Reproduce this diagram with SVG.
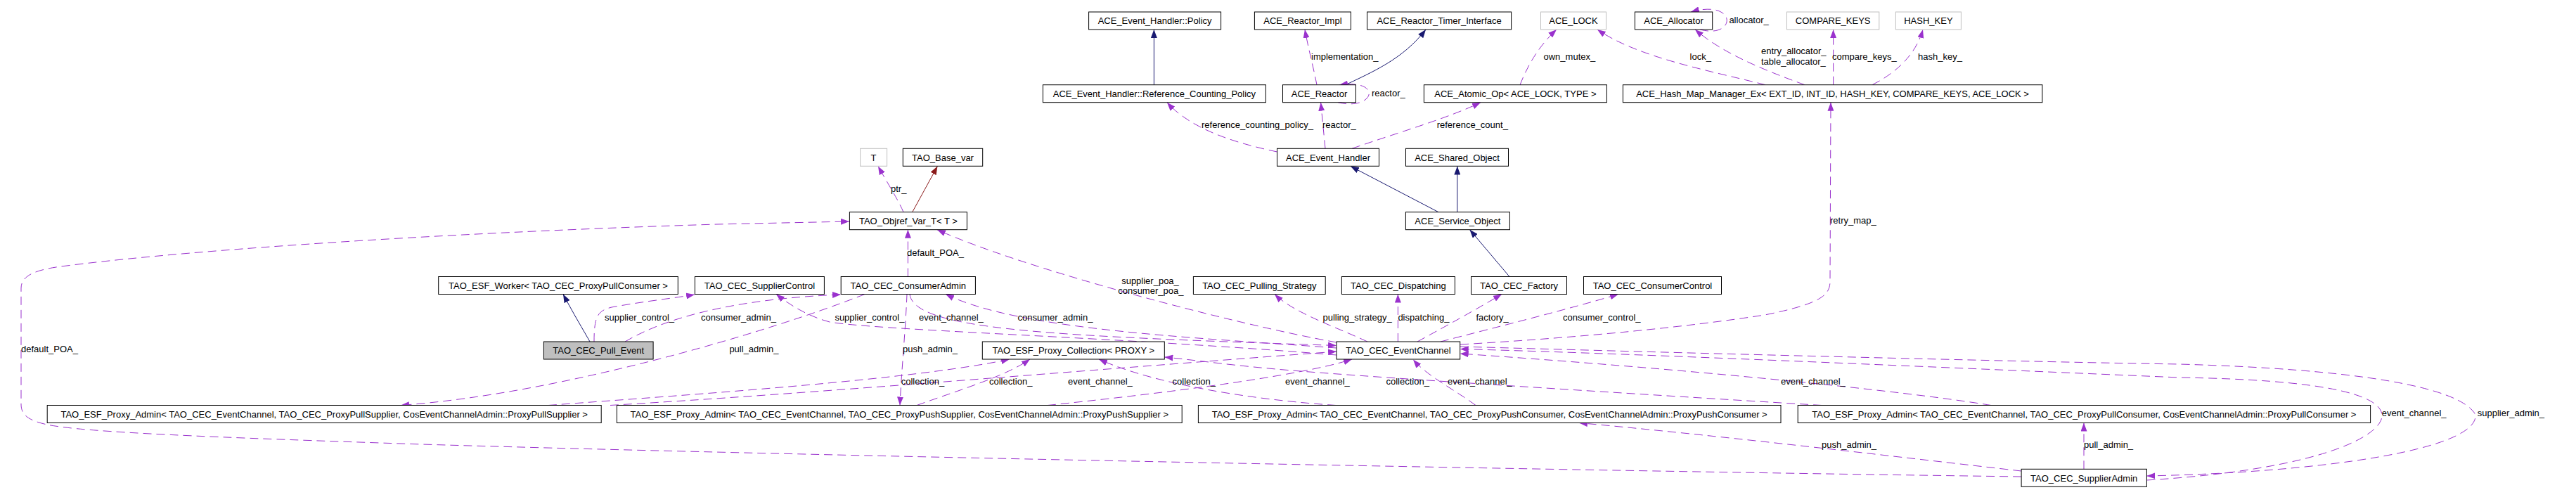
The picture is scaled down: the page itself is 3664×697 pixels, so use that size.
<svg xmlns="http://www.w3.org/2000/svg" width="3664" height="697" viewBox="0 0 3664 697">
<style>
.nd rect{fill:#fff;stroke:#000;stroke-width:1}
.nd.g rect{stroke:#bfbfbf}
.nd.f rect{fill:#bfbfbf}
text{font-family:"Liberation Sans",Arial,sans-serif;font-size:13px;fill:#000}
.nd text{text-anchor:middle}
.e{fill:none;stroke:#9a32cd;stroke-width:1;stroke-dasharray:12,7}
.n{fill:none;stroke:#191970;stroke-width:1}
.r{fill:none;stroke:#8b1a1a;stroke-width:1}
</style>
<defs>
<marker id="ap" viewBox="0 0 12 9" refX="12" refY="4.5" markerWidth="12" markerHeight="9" markerUnits="userSpaceOnUse" orient="auto"><path d="M0,0L12,4.5L0,9z" fill="#9a32cd"/></marker>
<marker id="an" viewBox="0 0 12 9" refX="12" refY="4.5" markerWidth="12" markerHeight="9" markerUnits="userSpaceOnUse" orient="auto"><path d="M0,0L12,4.5L0,9z" fill="#191970"/></marker>
<marker id="ar" viewBox="0 0 12 9" refX="12" refY="4.5" markerWidth="12" markerHeight="9" markerUnits="userSpaceOnUse" orient="auto"><path d="M0,0L12,4.5L0,9z" fill="#8b1a1a"/></marker>
</defs>
<rect width="3664" height="697" fill="#fff"/>
<g id="connectors">
<g marker-end="url(#an)">
<path class="n" d="M1641.4,120.7 L1641.4,42"/>
<path class="n" d="M1914,120.7 C1950,103 1995,85 2028,42"/>
<path class="n" d="M2046,301.7 L1921,236.5"/>
<path class="n" d="M2072.8,301.7 L2072.8,236.5"/>
<path class="n" d="M2147,393.5 L2090.5,326.7"/>
<path class="n" d="M839,486 C830,470 815,445 801,418.5"/>
</g>
<path class="r" marker-end="url(#ar)" d="M1297.7,301.7 L1333.4,236.5"/>
<g marker-end="url(#ap)">
<path class="e" d="M1285,301.7 C1278,285 1262,260 1249,236.5"/>
<path class="e" d="M1873,120.7 C1868,95 1860,65 1856,42"/>
<path class="e" d="M1903,145.7 C1955,158 1968,112 1905,120.7"/>
<path class="e" d="M1885,211.3 L1878.6,145.7"/>
<path class="e" d="M1816.5,216 C1760,204 1695,185 1660,145.7"/>
<path class="e" d="M1923,211.3 C1990,188 2060,168 2106,145.7"/>
<path class="e" d="M2162,120.7 C2172,95 2188,66 2214,42"/>
<path class="e" d="M2511,120.7 C2430,100 2330,82 2272,42"/>
<path class="e" d="M2418,42 C2470,56 2472,-2 2405,17"/>
<path class="e" d="M2567,120.7 C2510,100 2450,76 2411,42"/>
<path class="e" d="M2607.6,120.7 L2607.6,42"/>
<path class="e" d="M2663,120.7 C2700,102 2726,75 2735,42"/>
<path class="e" d="M2077,490 C2250,480 2400,465 2510,448 C2590,432 2603,420 2603,400 L2604,145.7"/>
<path class="e" d="M1291.4,393.5 L1291.4,326.7"/>
<path class="e" d="M1901,487 C1750,460 1450,380 1333,326.7"/>
<path class="e" d="M2875,678 C2400,672 1200,650 600,632 C300,622 120,615 67,604 C40,598 30,590 30,575 L30,410 C30,392 50,383 95,378 C250,358 600,332 1020,319 L1208,315"/>
<path class="e" d="M845,486 C845,450 850,442 870,437 C920,428 960,424 988,419"/>
<path class="e" d="M889,486 C950,450 1050,425 1196,419"/>
<path class="e" d="M1230,418.5 C1100,470 800,560 570,576.5"/>
<path class="e" d="M1290,418.5 C1288,470 1282,530 1280,576.5"/>
<path class="e" d="M1294,418.5 C1300,470 1500,478 1901,491.5"/>
<path class="e" d="M1901,505 C1600,480 1250,470 1180,458 C1150,450 1125,435 1104,418.5"/>
<path class="e" d="M1901,495 C1700,480 1450,470 1345,418.5"/>
<path class="e" d="M1945,486 C1900,465 1840,445 1813,418.5"/>
<path class="e" d="M1988.4,486 L1988.4,418.5"/>
<path class="e" d="M2016,486 C2060,462 2100,440 2136,418.5"/>
<path class="e" d="M2049,486 C2130,465 2230,440 2302,418.5"/>
<path class="e" d="M780,576.5 C1000,560 1300,540 1436,511"/>
<path class="e" d="M1304,576.5 C1370,553 1430,535 1465,511"/>
<path class="e" d="M1900,576.5 C1800,570 1650,550 1563,511"/>
<path class="e" d="M2591,576.5 C2400,565 2000,540 1850,528 C1750,520 1700,512 1656.4,508"/>
<path class="e" d="M868,576.5 C1150,560 1500,530 1901,500"/>
<path class="e" d="M1490,576.5 C1650,560 1850,535 1923,511"/>
<path class="e" d="M2099,576.5 C2070,555 2030,535 2010,511.5"/>
<path class="e" d="M2832,576.5 C2700,555 2400,525 2076.7,503"/>
<path class="e" d="M3053.4,683 C3300,668 3390,620 3388,590 C3385,560 3300,540 3100,537 C2700,520 2300,502 2076.7,496.5"/>
<path class="e" d="M2076.7,493 C2500,505 2900,515 3100,518 C3350,525 3500,550 3521,590 C3525,640 3300,672 3053.4,677"/>
<path class="e" d="M2875,670 C2700,650 2450,620 2246,601.5"/>
<path class="e" d="M2964,667.3 L2964,601.5"/>
</g>
<g id="labels">
<text x="1267" y="273">ptr_</text>
<text x="1865" y="84.7">implementation_</text>
<text x="1951" y="136.7">reactor_</text>
<text x="1881" y="181.7">reactor_</text>
<text x="1709" y="181.7">reference_counting_policy_</text>
<text x="2043.7" y="181.7">reference_count_</text>
<text x="2195.5" y="84.7">own_mutex_</text>
<text x="2403.6" y="84.7">lock_</text>
<text x="2459.4" y="32.7">allocator_</text>
<text x="2505" y="77.4">entry_allocator_</text>
<text x="2505" y="92">table_allocator_</text>
<text x="2606" y="84.7">compare_keys_</text>
<text x="2728" y="84.7">hash_key_</text>
<text x="2603" y="317.7">retry_map_</text>
<text x="1290" y="363.7">default_POA_</text>
<text x="1636" y="403.7" text-anchor="middle">supplier_poa_</text>
<text x="1636.8" y="418" text-anchor="middle">consumer_poa_</text>
<text x="30" y="501.4">default_POA_</text>
<text x="860" y="456.4">supplier_control_</text>
<text x="997" y="456.4">consumer_admin_</text>
<text x="1037.4" y="501.4">pull_admin_</text>
<text x="1187.4" y="456.4">supplier_control_</text>
<text x="1307" y="456.4">event_channel_</text>
<text x="1447.5" y="456.4">consumer_admin_</text>
<text x="1284" y="501.4">push_admin_</text>
<text x="1881.5" y="456.4">pulling_strategy_</text>
<text x="1988.4" y="456.4">dispatching_</text>
<text x="2099.5" y="456.4">factory_</text>
<text x="2223" y="456.4">consumer_control_</text>
<text x="1281.7" y="547.4">collection_</text>
<text x="1407" y="547.4">collection_</text>
<text x="1667.6" y="547.4">collection_</text>
<text x="1971.5" y="547.4">collection_</text>
<text x="1519" y="547.4">event_channel_</text>
<text x="1828" y="547.4">event_channel_</text>
<text x="2059" y="547.4">event_channel_</text>
<text x="2533" y="547.4">event_channel_</text>
<text x="3387.8" y="592">event_channel_</text>
<text x="3523.7" y="592">supplier_admin_</text>
<text x="2591" y="637">push_admin_</text>
<text x="2964" y="637">pull_admin_</text>
</g>
</g>
<g id="policy" class="nd"><rect x="1548.6" y="17" width="188" height="25"/><text x="1642.6" y="34.2">ACE_Event_Handler::Policy</text></g>
<g id="reactor_impl" class="nd"><rect x="1784.4" y="17" width="137" height="25"/><text x="1852.9" y="34.2">ACE_Reactor_Impl</text></g>
<g id="timer_interface" class="nd"><rect x="1944.6" y="17" width="205" height="25"/><text x="2047.1" y="34.2">ACE_Reactor_Timer_Interface</text></g>
<g id="ace_lock" class="nd g"><rect x="2191.5" y="17" width="93" height="25"/><text x="2238" y="34.2">ACE_LOCK</text></g>
<g id="allocator" class="nd"><rect x="2325.4" y="17" width="110.3" height="25"/><text x="2380.5" y="34.2">ACE_Allocator</text></g>
<g id="compare_keys" class="nd g"><rect x="2541.5" y="17" width="131.3" height="25"/><text x="2607.2" y="34.2">COMPARE_KEYS</text></g>
<g id="hash_key" class="nd g"><rect x="2696.4" y="17" width="93" height="25"/><text x="2742.9" y="34.2">HASH_KEY</text></g>
<g id="ref_counting_policy" class="nd"><rect x="1483.4" y="120.7" width="317" height="25"/><text x="1641.9" y="137.9">ACE_Event_Handler::Reference_Counting_Policy</text></g>
<g id="reactor" class="nd"><rect x="1824.5" y="120.7" width="104" height="25"/><text x="1876.5" y="137.9">ACE_Reactor</text></g>
<g id="atomic_op" class="nd"><rect x="2025.4" y="120.7" width="260" height="25"/><text x="2155.4" y="137.9">ACE_Atomic_Op&lt; ACE_LOCK, TYPE &gt;</text></g>
<g id="hash_map" class="nd"><rect x="2308.4" y="120.7" width="596.5" height="25"/><text x="2606.6" y="137.9">ACE_Hash_Map_Manager_Ex&lt; EXT_ID, INT_ID, HASH_KEY, COMPARE_KEYS, ACE_LOCK &gt;</text></g>
<g id="t" class="nd g"><rect x="1223.6" y="211.3" width="38" height="25"/><text x="1242.6" y="228.5">T</text></g>
<g id="base_var" class="nd"><rect x="1284.3" y="211.3" width="113.4" height="25"/><text x="1341" y="228.5">TAO_Base_var</text></g>
<g id="event_handler" class="nd"><rect x="1816.5" y="211.3" width="145" height="25"/><text x="1889" y="228.5">ACE_Event_Handler</text></g>
<g id="shared_object" class="nd"><rect x="1999.5" y="211.3" width="146" height="25"/><text x="2072.5" y="228.5">ACE_Shared_Object</text></g>
<g id="objref_var" class="nd"><rect x="1208.4" y="301.7" width="167" height="25"/><text x="1291.9" y="318.9">TAO_Objref_Var_T&lt; T &gt;</text></g>
<g id="service_object" class="nd"><rect x="1999.4" y="301.7" width="148" height="25"/><text x="2073.4" y="318.9">ACE_Service_Object</text></g>
<g id="worker" class="nd"><rect x="623.7" y="393.5" width="340.6" height="25"/><text x="794" y="410.7">TAO_ESF_Worker&lt; TAO_CEC_ProxyPullConsumer &gt;</text></g>
<g id="supplier_control" class="nd"><rect x="988.4" y="393.5" width="184" height="25"/><text x="1080.4" y="410.7">TAO_CEC_SupplierControl</text></g>
<g id="consumer_admin" class="nd"><rect x="1196.2" y="393.5" width="191.2" height="25"/><text x="1291.8" y="410.7">TAO_CEC_ConsumerAdmin</text></g>
<g id="pulling_strategy" class="nd"><rect x="1697.4" y="393.5" width="187.8" height="25"/><text x="1791.3" y="410.7">TAO_CEC_Pulling_Strategy</text></g>
<g id="dispatching" class="nd"><rect x="1908.4" y="393.5" width="161" height="25"/><text x="1988.9" y="410.7">TAO_CEC_Dispatching</text></g>
<g id="factory" class="nd"><rect x="2092.5" y="393.5" width="136" height="25"/><text x="2160.5" y="410.7">TAO_CEC_Factory</text></g>
<g id="consumer_control" class="nd"><rect x="2252.5" y="393.5" width="196" height="25"/><text x="2350.5" y="410.7">TAO_CEC_ConsumerControl</text></g>
<g id="pull_event" class="nd f"><rect x="773.4" y="486" width="155.7" height="25"/><text x="851.2" y="503.2">TAO_CEC_Pull_Event</text></g>
<g id="proxy_collection" class="nd"><rect x="1397.3" y="486" width="259" height="25"/><text x="1526.8" y="503.2">TAO_ESF_Proxy_Collection&lt; PROXY &gt;</text></g>
<g id="event_channel" class="nd"><rect x="1901" y="486" width="175.7" height="25"/><text x="1988.9" y="503.2">TAO_CEC_EventChannel</text></g>
<g id="admin_pull_supplier" class="nd"><rect x="67.2" y="576.5" width="788" height="25"/><text x="461.2" y="593.7">TAO_ESF_Proxy_Admin&lt; TAO_CEC_EventChannel, TAO_CEC_ProxyPullSupplier, CosEventChannelAdmin::ProxyPullSupplier &gt;</text></g>
<g id="admin_push_supplier" class="nd"><rect x="877.4" y="576.5" width="803.8" height="25"/><text x="1279.3" y="593.7">TAO_ESF_Proxy_Admin&lt; TAO_CEC_EventChannel, TAO_CEC_ProxyPushSupplier, CosEventChannelAdmin::ProxyPushSupplier &gt;</text></g>
<g id="admin_push_consumer" class="nd"><rect x="1704.4" y="576.5" width="828.6" height="25"/><text x="2118.7" y="593.7">TAO_ESF_Proxy_Admin&lt; TAO_CEC_EventChannel, TAO_CEC_ProxyPushConsumer, CosEventChannelAdmin::ProxyPushConsumer &gt;</text></g>
<g id="admin_pull_consumer" class="nd"><rect x="2557.2" y="576.5" width="814.4" height="25"/><text x="2964.4" y="593.7">TAO_ESF_Proxy_Admin&lt; TAO_CEC_EventChannel, TAO_CEC_ProxyPullConsumer, CosEventChannelAdmin::ProxyPullConsumer &gt;</text></g>
<g id="supplier_admin" class="nd"><rect x="2875.1" y="667.3" width="178.3" height="25"/><text x="2964.2" y="684.5">TAO_CEC_SupplierAdmin</text></g>
</svg>
